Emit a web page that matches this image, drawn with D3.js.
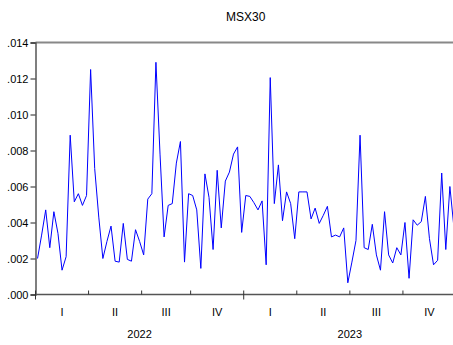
<!DOCTYPE html>
<html>
<head>
<meta charset="utf-8">
<script src="https://cdn.jsdelivr.net/npm/d3@7"></script>
<style>
  body { margin: 0; background: #fff; }
  text { font-family: Arial, "Liberation Sans", sans-serif; }
</style>
</head>
<body>
<div id="chart"></div>
<script>
// weekly MSX30 values (x 0.001)
var msx30 = [2.0, 3.3, 4.7, 2.6, 4.6, 3.4, 1.35, 2.1, 8.85, 5.15, 5.6, 4.95, 5.5,
  12.5, 7.0, 4.3, 2.0, 2.95, 3.8, 1.85, 1.8, 3.95, 1.95, 1.85, 3.6, 2.95,
  2.2, 5.3, 5.6, 12.9, 7.8, 3.2, 4.95, 5.05, 7.3, 8.5, 1.8, 5.6,
  5.5, 4.7, 1.45, 6.7, 5.4, 2.5, 6.9, 3.7, 6.3, 6.8, 7.8, 8.2, 3.45,
  5.5, 5.45, 5.1, 4.7, 5.2, 1.65, 12.05, 5.05, 7.2, 4.1, 5.7, 5.05, 3.1,
  5.7, 5.7, 5.7, 4.2, 4.8, 3.95, 4.4, 4.9, 3.2, 3.3, 3.2, 3.7, 0.65,
  1.8, 3.0, 8.85, 2.6, 2.5, 3.9, 2.2, 1.35, 4.6, 2.2, 1.75, 2.6, 2.2,
  4.0, 0.9, 4.15, 3.85, 4.05, 5.45, 3.1, 1.65, 1.9, 6.75, 2.5, 6.0, 3.7];

// observation index where each quarter starts (last entry = end of sample)
var quarterStarts = [0, 13, 26, 38, 51, 64, 77, 90, 103];
var quarterLabels = ["I", "II", "III", "IV", "I", "II", "III", "IV"];
var years = ["2022", "2023"];
var yTicks = [0, 0.002, 0.004, 0.006, 0.008, 0.010, 0.012, 0.014];

var W = 453, H = 345;
var margin = {top: 42.5, right: -3, bottom: 50.5, left: 35.5};

var svg = d3.select("#chart").append("svg")
  .attr("width", W)
  .attr("height", H);

var x = d3.scaleLinear()
  .domain([0, msx30.length])
  .range([margin.left, W - margin.right]);

var y = d3.scaleLinear()
  .domain([0, 0.014])
  .range([H - margin.bottom, margin.top]);

// title
svg.append("text")
  .attr("x", (margin.left + W - margin.right) / 2)
  .attr("y", 21)
  .attr("text-anchor", "middle")
  .style("font-size", "12px")
  .text("MSX30");

// top frame line
svg.append("line")
  .attr("x1", margin.left).attr("x2", W - margin.right)
  .attr("y1", margin.top).attr("y2", margin.top)
  .style("stroke", "#888")
  .style("stroke-width", 2);

// y axis
var yAxis = d3.axisLeft(y)
  .tickValues(yTicks)
  .tickSize(5)
  .tickPadding(2)
  .tickFormat(function(d) { return d3.format(".3f")(d).replace(/^0/, ""); });

var gy = svg.append("g")
  .attr("transform", "translate(" + margin.left + ",0)")
  .call(yAxis);
gy.select(".domain").style("stroke", "#555").style("stroke-width", 1.5);
gy.selectAll(".tick line").style("stroke", "#222");
gy.selectAll("text").style("font-size", "11px").style("fill", "#000")
  .style("font-family", "Arial, 'Liberation Sans', sans-serif");

// x axis: quarter ticks inside, year ticks outside
var base = y(0);
svg.append("line")
  .attr("x1", margin.left).attr("x2", W - margin.right)
  .attr("y1", base).attr("y2", base)
  .style("stroke", "#555")
  .style("stroke-width", 1.5);

svg.selectAll(".qtick")
  .data(quarterStarts.filter(function(d, i) { return i % 4 != 0; }))
  .enter().append("line")
  .attr("class", "qtick")
  .attr("x1", function(d) { return x(d); })
  .attr("x2", function(d) { return x(d); })
  .attr("y1", base).attr("y2", base - 4)
  .style("stroke", "#333");

svg.selectAll(".ytick")
  .data(quarterStarts.filter(function(d, i) { return i % 4 == 0; }))
  .enter().append("line")
  .attr("class", "ytick")
  .attr("x1", function(d) { return x(d); })
  .attr("x2", function(d) { return x(d); })
  .attr("y1", base - 4).attr("y2", base + 5)
  .style("stroke", "#333");

svg.selectAll(".qlab")
  .data(quarterLabels)
  .enter().append("text")
  .attr("class", "qlab")
  .attr("x", function(d, i) { return x((quarterStarts[i] + quarterStarts[i + 1]) / 2); })
  .attr("y", 316)
  .attr("text-anchor", "middle")
  .style("font-size", "11px")
  .text(function(d) { return d; });

svg.selectAll(".year")
  .data(years)
  .enter().append("text")
  .attr("class", "year")
  .attr("x", function(d, i) { return x((quarterStarts[i * 4] + quarterStarts[i * 4 + 4]) / 2); })
  .attr("y", 338)
  .attr("text-anchor", "middle")
  .style("font-size", "11px")
  .text(function(d) { return d; });

// the series
var line = d3.line()
  .x(function(d, i) { return x(i + 0.5); })
  .y(function(d) { return y(d / 1000); });

svg.append("path")
  .datum(msx30)
  .attr("d", line)
  .style("fill", "none")
  .style("stroke", "#0000ff")
  .style("stroke-width", 1);
</script>
</body>
</html>
